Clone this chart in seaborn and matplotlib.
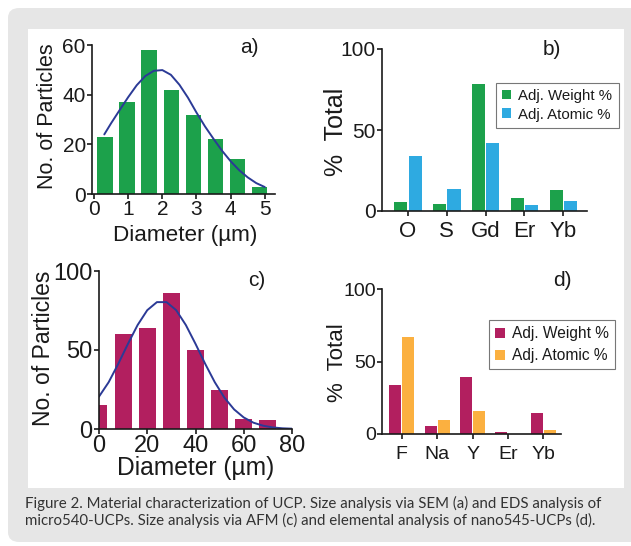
import numpy as np
import pandas as pd
import matplotlib.pyplot as plt
import seaborn as sns
from matplotlib.patches import FancyBboxPatch, Rectangle

# --- panel a: SEM size histogram (micro540-UCPs)
sem_bins = [0.325, 0.97, 1.615, 2.26, 2.905, 3.55, 4.195, 4.84]
sem_counts = [23, 37, 58, 42, 32, 22, 14, 3]
sem_fit_x = [0.3, 0.5, 0.75, 1.0, 1.25, 1.5, 1.75, 2.0, 2.25, 2.5, 2.75,
             3.0, 3.25, 3.5, 3.75, 4.0, 4.25, 4.5, 4.75, 5.0]
sem_fit_y = [24.0, 28.5, 33.8, 39.0, 43.8, 47.5, 49.6, 49.9, 48.0, 44.0, 38.8,
             32.8, 27.2, 22.2, 17.4, 13.2, 9.6, 6.7, 4.4, 2.8]

# --- panel b: EDS analysis (micro540-UCPs)
eds_elements = ['O', 'S', 'Gd', 'Er', 'Yb']
eds_weight = [5.5, 4.5, 78.5, 8, 12.8]
eds_atomic = [34, 13.8, 41.7, 3.5, 6]

# --- panel c: AFM size histogram (nano545-UCPs)
afm_bins = [0, 10, 20, 30, 40, 50, 60, 70]
afm_counts = [15, 60, 64, 86, 50, 25, 6.3, 5.5]
afm_fit_x = [0, 4, 8, 12, 16, 20, 24, 28, 32, 36, 40, 44, 48, 52, 56, 60, 64, 68, 72, 76, 80]
afm_fit_y = [20.5, 29.6, 41.3, 53.9, 65.8, 75.2, 80.3, 80.3, 75.2, 65.8, 53.9,
             41.3, 29.6, 19.8, 12.4, 7.3, 4.0, 2.1, 1.0, 0.45, 0.2]

# --- panel d: elemental analysis (nano545-UCPs)
ea_elements = ['F', 'Na', 'Y', 'Er', 'Yb']
ea_weight = [34, 5.8, 39.6, 1.6, 14.3]
ea_atomic = [66.6, 9.9, 16.1, 0.3, 2.5]

series_names = ['Adj. Weight %', 'Adj. Atomic %']
caption = ("Figure 2. Material characterization of UCP. Size analysis via SEM (a) and EDS analysis of\n"
           "micro540-UCPs. Size analysis via AFM (c) and elemental analysis of nano545-UCPs (d).")

GREEN = '#1ca14b'
BLUE = '#2eaae1'
MAGENTA = '#b21f5f'
ORANGE = '#fbb040'
FIT = '#2b3a96'
INK = '#1a1a1a'
GRAY_BG = '#e6e6e6'

sns.set_style('white')
plt.rcParams['font.family'] = ['Liberation Sans', 'DejaVu Sans']

W, H = 631, 546
fig = plt.figure(figsize=(W / 100, H / 100), dpi=100)
fig.patch.set_facecolor('white')


def px_axes(left, top, right, bottom):
    return fig.add_axes([left / W, 1 - bottom / H, (right - left) / W, (bottom - top) / H])


def fx(x):
    return x / W


def fy(y):
    return 1 - y / H


# background frame
fig.patches.append(FancyBboxPatch((fx(8), fy(542)), fx(660) - fx(8), fy(8) - fy(542),
                                  boxstyle='round,pad=0,rounding_size=0.018',
                                  transform=fig.transFigure, facecolor=GRAY_BG,
                                  edgecolor='none', zorder=-3))
fig.patches.append(Rectangle((fx(28), fy(488)), fx(624) - fx(28), fy(29) - fy(488),
                             transform=fig.transFigure, facecolor='white',
                             edgecolor='none', zorder=-2))
# gray strip that clips the bottom of panel c's x label, as in the original
fig.patches.append(Rectangle((fx(28), fy(500)), fx(624) - fx(28), fy(488) - fy(500),
                             transform=fig.transFigure, facecolor=GRAY_BG,
                             edgecolor='none', zorder=1))


def style_axes(ax, tick_size, xtick_size=None, xpad=1):
    for s in ['top', 'right']:
        ax.spines[s].set_visible(False)
    for s in ['left', 'bottom']:
        ax.spines[s].set_linewidth(1.2)
        ax.spines[s].set_color(INK)
    ax.tick_params(axis='both', direction='out', length=3.5, width=1.2, color=INK,
                   labelcolor=INK, labelsize=tick_size, pad=1)
    ax.tick_params(bottom=True, left=True)
    ax.tick_params(axis='x', pad=xpad)
    if xtick_size:
        ax.tick_params(axis='x', labelsize=xtick_size)
    ax.set_facecolor('none')


def size_panel(ax, bins, counts, fit_x, fit_y, color, xlim, ylim, yticks, xticks):
    sns.barplot(x=bins, y=counts, native_scale=True, width=0.7, color=color,
                saturation=1, linewidth=0, errorbar=None, ax=ax)
    sns.lineplot(x=fit_x, y=fit_y, color=FIT, linewidth=1.4, ax=ax)
    ax.set_xlim(*xlim)
    ax.set_ylim(*ylim)
    ax.set_yticks(yticks)
    ax.set_xticks(xticks)
    ax.set_xticklabels([str(t) for t in xticks])


def composition_panel(ax, elements, weight, atomic, colors, xlim, legend_xy, legend_size, spacing):
    df = pd.DataFrame({
        'Element': elements * 2,
        'Percent': weight + atomic,
        'Series': [series_names[0]] * len(elements) + [series_names[1]] * len(elements),
    })
    sns.barplot(data=df, x='Element', y='Percent', hue='Series', palette=colors,
                width=0.74, gap=0.08, saturation=1, linewidth=0, errorbar=None, ax=ax)
    ax.set_xlim(*xlim)
    ax.set_ylim(0, 100)
    ax.set_yticks([0, 50, 100])
    leg = ax.legend(loc='upper left', bbox_to_anchor=legend_xy, bbox_transform=fig.transFigure,
                    fontsize=legend_size, frameon=True, fancybox=False, handlelength=0.6,
                    handleheight=0.6, handletextpad=0.5, borderpad=0.4, labelspacing=spacing,
                    borderaxespad=0)
    leg.get_frame().set_edgecolor('#555555')
    leg.get_frame().set_linewidth(0.8)
    for t in leg.get_texts():
        t.set_color(INK)


# a)
ax_a = px_axes(92, 45, 275, 194)
size_panel(ax_a, sem_bins, sem_counts, sem_fit_x, sem_fit_y, GREEN,
           (-0.06, 5.3), (0, 60), [0, 20, 40, 60], [0, 1, 2, 3, 4, 5])
style_axes(ax_a, 15)
ax_a.set_ylabel('No. of Particles', fontsize=15.5, color=INK)
ax_a.set_xlabel('Diameter (µm)', fontsize=16.2, color=INK)
ax_a.yaxis.set_label_coords(-0.185, 0.52)
ax_a.xaxis.set_label_coords(0.51, -0.21)

# b)
ax_b = px_axes(382, 49, 587, 211)
composition_panel(ax_b, eds_elements, eds_weight, eds_atomic, [GREEN, BLUE],
                  (-0.67, 4.61), (fx(496), fy(83)), 10.8, 0.3)
style_axes(ax_b, 15, 16, xpad=4)
ax_b.set_xlabel('')
ax_b.set_ylabel('%  Total', fontsize=18, color=INK)
ax_b.yaxis.set_label_coords(-0.165, 0.49)

# c)
ax_c = px_axes(99, 271, 292, 429)
size_panel(ax_c, afm_bins, afm_counts, afm_fit_x, afm_fit_y, MAGENTA,
           (0, 80), (0, 100), [0, 50, 100], [0, 20, 40, 60, 80])
style_axes(ax_c, 17)
ax_c.set_ylabel('No. of Particles', fontsize=16.5, color=INK)
ax_c.set_xlabel('Diameter (µm)', fontsize=17.7, color=INK)
ax_c.yaxis.set_label_coords(-0.228, 0.51)
ax_c.xaxis.set_label_coords(0.5, -0.17)

# d)
ax_d = px_axes(382, 289, 561, 434)
composition_panel(ax_d, ea_elements, ea_weight, ea_atomic, [MAGENTA, ORANGE],
                  (-0.56, 4.5), (fx(489), fy(320)), 11.2, 0.45)
style_axes(ax_d, 14, xpad=5)
ax_d.set_xlabel('')
ax_d.set_ylabel('%  Total', fontsize=16, color=INK)
ax_d.yaxis.set_label_coords(-0.19, 0.49)

# panel letters
for label, x, y in [('a)', 249, 47.5), ('b)', 552, 49.5), ('c)', 257, 280), ('d)', 562, 280)]:
    fig.text(fx(x), fy(y), label, fontsize=15, color=INK, ha='center', va='center')

fig.text(fx(25), fy(525), caption, fontsize=10.8, family=['Lato', 'DejaVu Sans'],
         color='#333333', ha='left', va='baseline', linespacing=1.15, zorder=3)

fig.savefig('out.png', dpi=100)
